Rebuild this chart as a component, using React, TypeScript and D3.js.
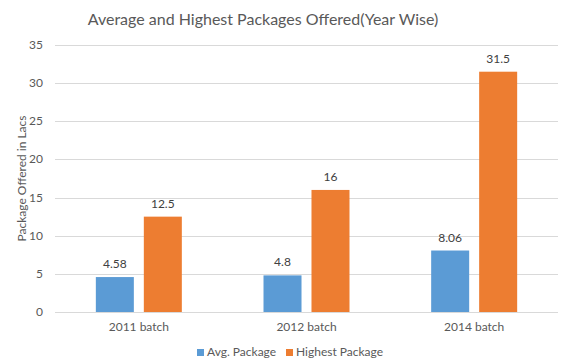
import * as d3 from 'd3';

const categories = ["2011 batch", "2012 batch", "2014 batch"]
const seriesNames = ["Avg. Package", "Highest Package"]
const avgPackage = [4.58, 4.8, 8.06]
const highestPackage = [12.5, 16, 31.5]
const yTicks = [0, 5, 10, 15, 20, 25, 30, 35]

const colors = ["#5B9BD5", "#ED7D31"]
const font = "Lato, 'Open Sans', sans-serif"
const textColor = "#595959"

const width = 563
const height = 363
const margin = {top: 45, right: 5, bottom: 51, left: 55}

const App = () => {
    const series = [avgPackage, highestPackage]

    const x = d3.scaleBand<string>()
        .domain(categories)
        .range([margin.left, width - margin.right])
        .padding(0)

    const inner = d3.scaleBand<string>()
        .domain(seriesNames)
        .range([0, x.bandwidth()])
        .paddingInner(0.208)
        .paddingOuter(0.851)

    const y = d3.scaleLinear()
        .domain([0, 35])
        .range([height - margin.bottom, margin.top])

    return (
        <svg width={width} height={height} style={{position: "absolute", left: 0, top: 0, background: "#fff"}} fontFamily={font}>
            <rect width={width} height={height} fill="#fff" />
            <text x={263} y={25} textAnchor="middle" fontSize="16px" fill={textColor}>Average and Highest Packages Offered(Year Wise)</text>

            {/* grid + y ticks */}
            {yTicks.map(t => (
                <g key={t}>
                    <line x1={margin.left} x2={width - margin.right} y1={Math.round(y(t)) + 0.5} y2={Math.round(y(t)) + 0.5} stroke="#D9D9D9" />
                    <text x={43} y={y(t) + 4} textAnchor="end" fontSize="12px" fill={textColor}>{t}</text>
                </g>
            ))}

            <text transform={`translate(26,${(margin.top + height - margin.bottom) / 2}) rotate(-90)`} textAnchor="middle" fontSize="12px" fill={textColor}>Package Offered in Lacs</text>

            {categories.map((c, i) => (
                <g key={c} transform={`translate(${x(c)},0)`}>
                    {seriesNames.map((s, j) => {
                        const v = series[j][i]
                        const bx = inner(s) ?? 0
                        return (
                            <g key={s}>
                                <rect x={bx} y={y(v)} width={inner.bandwidth()} height={y(0) - y(v)} fill={colors[j]} />
                                <text x={bx + inner.bandwidth() / 2} y={y(v) - 9} textAnchor="middle" fontSize="12px" fill="#404040">{v}</text>
                            </g>
                        )
                    })}
                    <text x={x.bandwidth() / 2} y={331} textAnchor="middle" fontSize="12px" fill={textColor}>{c}</text>
                </g>
            ))}

            {/* legend */}
            {seriesNames.map((s, j) => {
                const lx = j === 0 ? 197 : 286
                return (
                    <g key={s}>
                        <rect x={lx} y={349} width={7} height={7} fill={colors[j]} />
                        <text x={lx + 10} y={356} fontSize="12px" fill={textColor}>{s}</text>
                    </g>
                )
            })}
        </svg>
    )
}

export default App
